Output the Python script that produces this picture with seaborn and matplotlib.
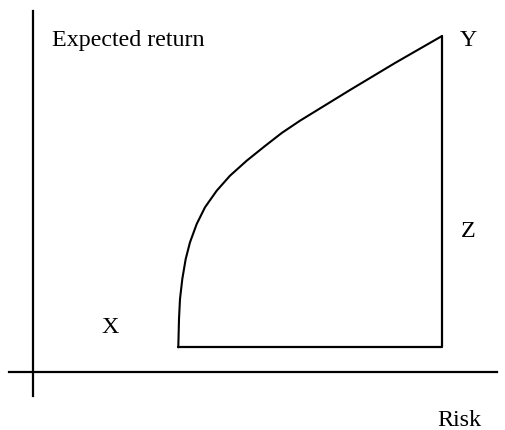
import matplotlib
matplotlib.use("Agg")
import matplotlib.pyplot as plt
import seaborn as sns
import pandas as pd

# Efficient frontier sketch (risk / return in arbitrary units, origin at axis crossing)
curve_risk = [145.3, 146, 147, 149.3, 152.7, 157, 163.7, 172, 183.7, 197,
              213.7, 232, 248.7, 267, 317, 362, 409]
curve_return = [24.7, 53, 73, 93, 113, 129.7, 148, 164.7, 181.3, 196.3,
                211.3, 226, 239, 251.3, 282, 309, 336]

# closing segments: Y -> Z (down) -> back to X
close_risk = [409, 409, 145.3]
close_return = [336, 24.7, 24.7]

point_labels = ["X", "Y", "Z"]
label_risk = [68, 427, 428]
label_return = [40, 327, 136]

sns.set_theme(style="white")
plt.rcParams['font.family'] = ['Liberation Serif', 'DejaVu Serif']

fig = plt.figure(figsize=(5.06, 4.31), dpi=100)
ax = fig.add_axes([0, 0, 1, 1])

curve = pd.DataFrame({'Risk': curve_risk, 'Return': curve_return})
closing = pd.DataFrame({'Risk': close_risk, 'Return': close_return})

sns.lineplot(data=curve, x='Risk', y='Return', sort=False, estimator=None,
             color='black', linewidth=1.5, ax=ax)
sns.lineplot(data=closing, x='Risk', y='Return', sort=False, estimator=None,
             color='black', linewidth=1.6, ax=ax)

ax.set_xlim(-33, 473)
ax.set_ylim(-58, 373)

# axes drawn as crossing lines through the origin
for side in ['top', 'right']:
    ax.spines[side].set_visible(False)
ax.spines['left'].set_position(('data', 0))
ax.spines['bottom'].set_position(('data', 0))
ax.spines['left'].set_bounds(-24, 361)
ax.spines['bottom'].set_bounds(-24, 464)
for side in ['left', 'bottom']:
    ax.spines[side].set_color('black')
    ax.spines[side].set_linewidth(1.6)

ax.set_xticks([])
ax.set_yticks([])
ax.set_xlabel('')
ax.set_ylabel('')
ax.patch.set_alpha(0)

fs = 17.3
ax.text(19, 327, 'Expected return', fontsize=fs, ha='left', va='baseline', color='black')
ax.text(404, -53, 'Risk', fontsize=fs, ha='left', va='baseline', color='black')
for lab, rx, ry in zip(point_labels, label_risk, label_return):
    ax.text(rx, ry, lab, fontsize=fs, ha='left', va='baseline', color='black')

fig.savefig('out.png', dpi=100, facecolor='white')
